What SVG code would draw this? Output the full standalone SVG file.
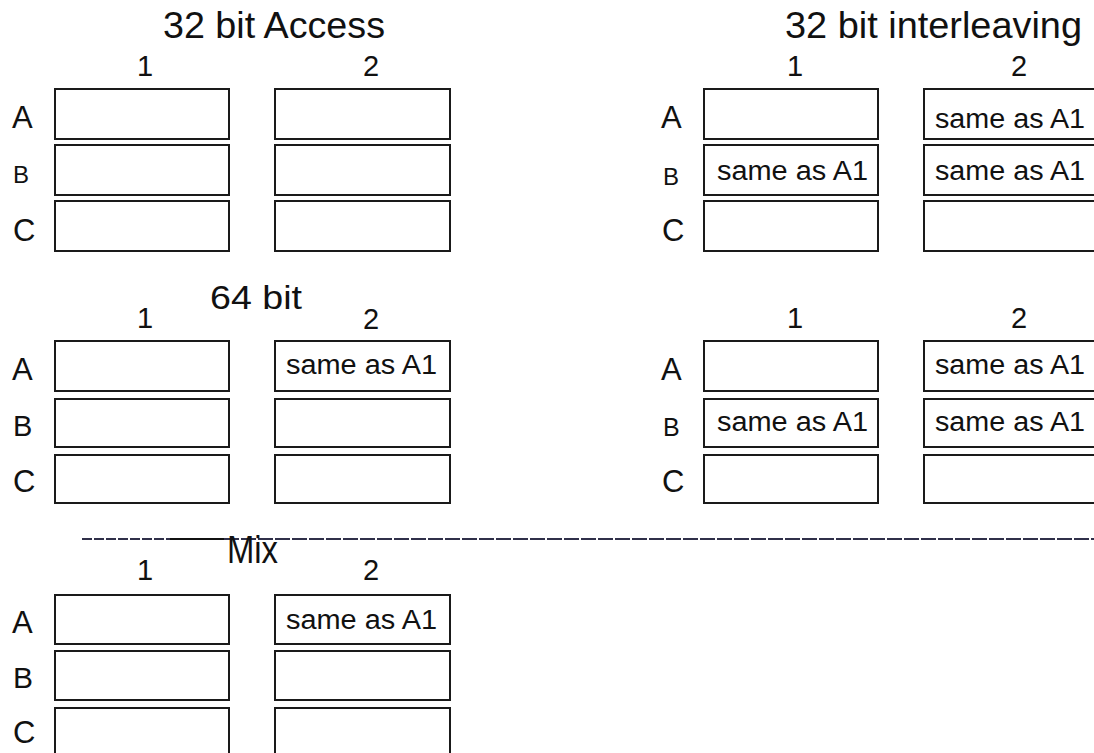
<svg xmlns="http://www.w3.org/2000/svg" width="1094" height="753" viewBox="0 0 1094 753">
<style>
text{font-family:"Liberation Sans",Arial,sans-serif;fill:#111}
.box{fill:#fff;stroke:#1a1a1a;stroke-width:2}
.title{font-size:36px}
.col{font-size:29px;text-anchor:middle}
.row{font-size:31px}
.rowb{font-size:26px}
.cell{font-size:27px}
.sep{stroke:#30304a;stroke-width:2;fill:none}
</style>
<rect width="1094" height="753" fill="#fff"/>

<!-- Section: 32 bit Access -->
<g id="sec-32access">
<text class="title" x="163" y="38" textLength="222" lengthAdjust="spacingAndGlyphs">32 bit Access</text>
<text class="col" x="145" y="76">1</text>
<text class="col" x="371" y="76">2</text>
<text class="row" x="12" y="128">A</text>
<text class="rowb" x="13" y="183" style="font-size:24px">B</text>
<text class="row" x="13" y="241">C</text>
<g id="acc-A1"><rect class="box" x="55" y="89" width="174" height="50"/></g>
<g id="acc-A2"><rect class="box" x="275" y="89" width="175" height="50"/></g>
<g id="acc-B1"><rect class="box" x="55" y="145" width="174" height="50"/></g>
<g id="acc-B2"><rect class="box" x="275" y="145" width="175" height="50"/></g>
<g id="acc-C1"><rect class="box" x="55" y="201" width="174" height="50"/></g>
<g id="acc-C2"><rect class="box" x="275" y="201" width="175" height="50"/></g>
</g>

<!-- Section: 32 bit interleaving -->
<g id="sec-32inter">
<text class="title" x="785" y="38" textLength="297" lengthAdjust="spacingAndGlyphs">32 bit interleaving</text>
<text class="col" x="795" y="76">1</text>
<text class="col" x="1019" y="76">2</text>
<text class="row" x="661" y="128">A</text>
<text class="rowb" x="663" y="185" style="font-size:24px">B</text>
<text class="row" x="662" y="241">C</text>
<g id="int-A1"><rect class="box" x="704" y="89" width="174" height="50"/></g>
<g id="int-A2"><rect class="box" x="924" y="89" width="176" height="50"/><text class="cell" x="935" y="128" textLength="150" lengthAdjust="spacingAndGlyphs">same as A1</text></g>
<g id="int-B1"><rect class="box" x="704" y="145" width="174" height="50"/><text class="cell" x="717" y="180" textLength="151" lengthAdjust="spacingAndGlyphs">same as A1</text></g>
<g id="int-B2"><rect class="box" x="924" y="145" width="176" height="50"/><text class="cell" x="935" y="180" textLength="150" lengthAdjust="spacingAndGlyphs">same as A1</text></g>
<g id="int-C1"><rect class="box" x="704" y="201" width="174" height="50"/></g>
<g id="int-C2"><rect class="box" x="924" y="201" width="176" height="50"/></g>
</g>

<!-- Section: 64 bit -->
<g id="sec-64">
<text class="title" x="210" y="309" style="font-size:34px" textLength="92" lengthAdjust="spacingAndGlyphs">64 bit</text>
<text class="col" x="145" y="328">1</text>
<text class="col" x="371" y="329">2</text>
<text class="row" x="12" y="380">A</text>
<text class="rowb" x="13" y="436" style="font-size:29px">B</text>
<text class="row" x="13" y="492">C</text>
<g id="b64-A1"><rect class="box" x="55" y="341" width="174" height="50"/></g>
<g id="b64-A2"><rect class="box" x="275" y="341" width="175" height="50"/><text class="cell" x="286" y="374" textLength="151" lengthAdjust="spacingAndGlyphs">same as A1</text></g>
<g id="b64-B1"><rect class="box" x="55" y="399" width="174" height="48"/></g>
<g id="b64-B2"><rect class="box" x="275" y="399" width="175" height="48"/></g>
<g id="b64-C1"><rect class="box" x="55" y="455" width="174" height="48"/></g>
<g id="b64-C2"><rect class="box" x="275" y="455" width="175" height="48"/></g>
</g>

<!-- Section: 64 bit interleaving (unlabelled) -->
<g id="sec-64inter">
<text class="col" x="795" y="328">1</text>
<text class="col" x="1019" y="328">2</text>
<text class="row" x="661" y="380">A</text>
<text class="rowb" x="663" y="436" style="font-size:25px">B</text>
<text class="row" x="662" y="492">C</text>
<g id="i64-A1"><rect class="box" x="704" y="341" width="174" height="50"/></g>
<g id="i64-A2"><rect class="box" x="924" y="341" width="176" height="50"/><text class="cell" x="935" y="374" textLength="150" lengthAdjust="spacingAndGlyphs">same as A1</text></g>
<g id="i64-B1"><rect class="box" x="704" y="399" width="174" height="48"/><text class="cell" x="717" y="431" textLength="151" lengthAdjust="spacingAndGlyphs">same as A1</text></g>
<g id="i64-B2"><rect class="box" x="924" y="399" width="176" height="48"/><text class="cell" x="935" y="431" textLength="150" lengthAdjust="spacingAndGlyphs">same as A1</text></g>
<g id="i64-C1"><rect class="box" x="704" y="455" width="174" height="48"/></g>
<g id="i64-C2"><rect class="box" x="924" y="455" width="176" height="48"/></g>
</g>

<!-- Separator line -->
<g id="connectors">
<line class="sep" x1="82" y1="539" x2="170" y2="539" stroke-dasharray="10 2"/>
<line class="sep" x1="170" y1="539" x2="224" y2="539" style="stroke:#111"/>
<line class="sep" x1="224" y1="539" x2="1094" y2="539" stroke-dasharray="15 2"/>
</g>

<!-- Section: Mix -->
<g id="sec-mix">
<text class="title" x="227" y="563" style="font-size:38px" textLength="51" lengthAdjust="spacingAndGlyphs">Mix</text>
<text class="col" x="145" y="580">1</text>
<text class="col" x="371" y="580">2</text>
<text class="row" x="12" y="633">A</text>
<text class="rowb" x="13" y="688" style="font-size:30px">B</text>
<text class="row" x="13" y="743">C</text>
<g id="mix-A1"><rect class="box" x="55" y="595" width="174" height="49"/></g>
<g id="mix-A2"><rect class="box" x="275" y="595" width="175" height="49"/><text class="cell" x="286" y="629" textLength="151" lengthAdjust="spacingAndGlyphs">same as A1</text></g>
<g id="mix-B1"><rect class="box" x="55" y="651" width="174" height="49"/></g>
<g id="mix-B2"><rect class="box" x="275" y="651" width="175" height="49"/></g>
<g id="mix-C1"><rect class="box" x="55" y="708" width="174" height="50"/></g>
<g id="mix-C2"><rect class="box" x="275" y="708" width="175" height="50"/></g>
</g>
</svg>
